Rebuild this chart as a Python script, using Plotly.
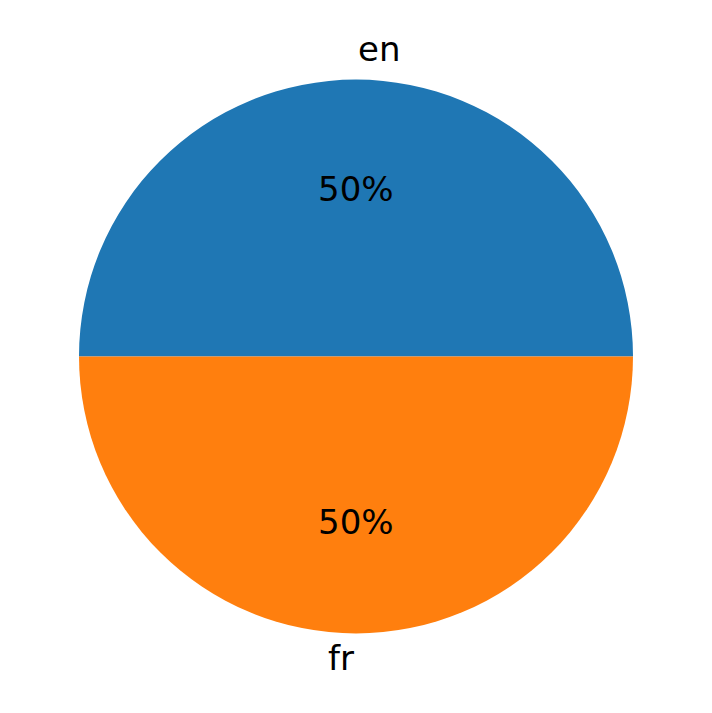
import math
import plotly.graph_objects as go

labels = ["en", "fr"]
values = [50, 50]
colors = ["#1f77b4", "#ff7f0e"]

W, H = 712, 713
cx, cy, r = 356, 356.5, 277  # pixel geometry of the pie
FONT = dict(family="DejaVu Sans", size=34, color="black")

fig = go.Figure(go.Pie(
    labels=labels,
    values=values,
    marker=dict(colors=colors, line=dict(width=0)),
    sort=False,
    direction="counterclockwise",
    rotation=-90,
    textinfo="none",
    textposition="none",
    domain=dict(x=[(cx - r) / W, (cx + r) / W], y=[(H - cy - r) / H, (H - cy + r) / H]),
    showlegend=False,
    hoverinfo="label+percent",
))

# matplotlib-style labels (labeldistance 1.1) and percentages (pctdistance 0.6)
total = sum(values)
start = 0.0
for lab, v in zip(labels, values):
    frac = v / total
    mid = math.radians(360 * (start + frac / 2))
    start += frac
    dx, dy = math.cos(mid), math.sin(mid)
    # outer label (small upward nudge to match matplotlib's vertical centring)
    fig.add_annotation(x=(cx + 1.1 * r * dx) / W, y=(H - cy + 1.1 * r * dy + 3) / H,
                       xref="paper", yref="paper", text=lab, showarrow=False,
                       xanchor="left" if dx > 0 else "right", yanchor="middle", font=FONT)
    # percentage
    fig.add_annotation(x=(cx + 0.6 * r * dx) / W, y=(H - cy + 0.6 * r * dy + 1) / H,
                       xref="paper", yref="paper", text=f"{round(100 * frac)}%", showarrow=False,
                       xanchor="center", yanchor="middle", font=FONT)

fig.update_layout(width=W, height=H, margin=dict(l=0, r=0, t=0, b=0),
                  paper_bgcolor="white", plot_bgcolor="white")
fig.write_html("out.html", config={"displayModeBar": False},
               post_script="document.body.style.margin='0';")
